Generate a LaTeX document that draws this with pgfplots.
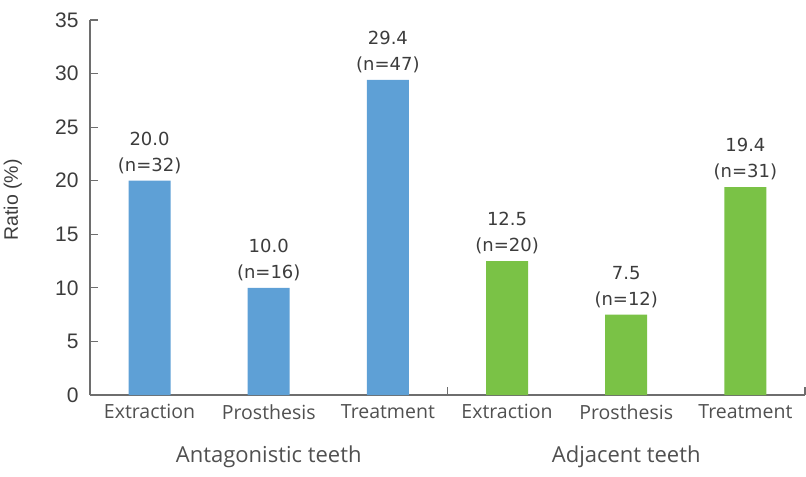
\documentclass[border=0pt]{standalone}
\usepackage{pgfplots}
\usepackage{pgfplotstable}
\pgfplotsset{compat=1.18}
\usepackage{fontspec}
\setmainfont{Liberation Sans}
\newfontfamily\catfont{Open Sans}
\newfontfamily\lblfont{DejaVu Sans}
\definecolor{barblue}{RGB}{94,160,214}
\definecolor{bargreen}{RGB}{122,194,70}
\definecolor{axgray}{RGB}{110,110,110}
\definecolor{txtgray}{RGB}{80,80,80}
\definecolor{lblgray}{RGB}{60,60,60}

\pgfplotstableread{
x y n
0 20.0 32
1 10.0 16
2 29.4 47
}\antag
\pgfplotstableread{
x y n
3 12.5 20
4 7.5 12
5 19.4 31
}\adj

\begin{document}
\begin{tikzpicture}
\useasboundingbox (-90bp,-82bp) rectangle (716bp,395bp);
\begin{axis}[
  scale only axis, width=715bp, height=375bp,
  xmin=-0.5, xmax=5.5, ymin=0, ymax=35,
  /pgf/number format/assume math mode=true,
  axis x line=bottom, axis y line=left,
  axis line style={axgray, line width=1.2bp, -},
  tick align=inside, major tick length=8bp,
  ytick={0,5,...,35},
  ytick style={axgray, line width=1.2bp},
  xtick={0,...,5},
  xtick style={draw=none},
  xticklabels={Extraction,Prosthesis,Treatment,Extraction,Prosthesis,Treatment},
  xticklabel style={font=\catfont\fontsize{19.5bp}{23bp}\selectfont, text=txtgray, yshift=-6bp},
  yticklabel style={font=\fontsize{21bp}{25bp}\selectfont, text=lblgray, xshift=-8bp},
  ylabel={Ratio (\%)},
  ylabel style={font=\fontsize{19.5bp}{23bp}\selectfont, text=lblgray, at={(axis description cs:-0.108,0.52)}, anchor=center},
  clip=false,
  nodes near coords={\pgfmathprintnumber[fixed,fixed zerofill,precision=1]{\yval}\\(n=\pgfmathprintnumber{\pgfplotspointmeta})},
  every node near coord/.append style={align=center, font=\lblfont\fontsize{18bp}{26bp}\selectfont, text=lblgray, inner sep=3bp, yshift=4bp},
]
\addplot[ybar, bar shift=0pt, bar width=42bp, fill=barblue, draw=none,
  point meta=\thisrow{n}, visualization depends on={y \as \yval}] table[x=x,y=y]{\antag};
\addplot[ybar, bar shift=0pt, bar width=42bp, fill=bargreen, draw=none,
  point meta=\thisrow{n}, visualization depends on={y \as \yval}] table[x=x,y=y]{\adj};
\draw[axgray, line width=1.2bp] (axis cs:2.5,0) -- ([yshift=8bp]axis cs:2.5,0);
\draw[axgray, line width=1.2bp] (axis cs:5.5,0) -- ([yshift=8bp]axis cs:5.5,0);
\node[font=\catfont\fontsize{22bp}{26bp}\selectfont, text=txtgray] at (axis cs:1,0) [yshift=-62bp] {Antagonistic teeth};
\node[font=\catfont\fontsize{22bp}{26bp}\selectfont, text=txtgray] at (axis cs:4,0) [yshift=-62bp] {Adjacent teeth};
\end{axis}
\end{tikzpicture}
\end{document}
